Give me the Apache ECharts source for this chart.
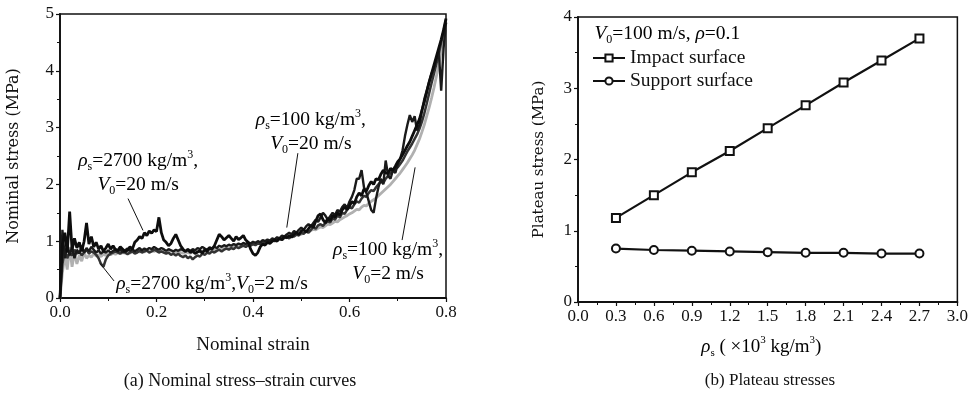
<!DOCTYPE html>
<html><head><meta charset="utf-8">
<script src="https://cdn.jsdelivr.net/npm/echarts@6/dist/echarts.min.js"></script>
<style>html,body{margin:0;padding:0;background:#fff}#c{width:971px;height:394px}</style>
</head><body><div id="c"></div>
<script>
// ---------- Panel (a): nominal stress-strain curves ----------
const strain = [0,0.005,0.01,0.015,0.02,0.025,0.03,0.035,0.04,0.045,0.05,0.055,0.06,0.065,0.07,0.075,0.08,0.085,0.09,0.095,
0.1,0.105,0.11,0.115,0.12,0.125,0.13,0.135,0.14,0.145,0.15,0.155,0.16,0.165,0.17,0.175,0.18,0.185,0.19,0.195,
0.2,0.205,0.21,0.215,0.22,0.225,0.23,0.235,0.24,0.245,0.25,0.255,0.26,0.265,0.27,0.275,0.28,0.285,0.29,0.295,
0.3,0.305,0.31,0.315,0.32,0.325,0.33,0.335,0.34,0.345,0.35,0.355,0.36,0.365,0.37,0.375,0.38,0.385,0.39,0.395,
0.4,0.405,0.41,0.415,0.42,0.425,0.43,0.435,0.44,0.445,0.45,0.455,0.46,0.465,0.47,0.475,0.48,0.485,0.49,0.495,
0.5,0.505,0.51,0.515,0.52,0.525,0.53,0.535,0.54,0.545,0.55,0.555,0.56,0.565,0.57,0.575,0.58,0.585,0.59,0.595,
0.6,0.605,0.61,0.615,0.62,0.625,0.63,0.635,0.64,0.645,0.65,0.655,0.66,0.665,0.67,0.675,0.68,0.685,0.69,0.695,
0.7,0.705,0.71,0.715,0.72,0.725,0.73,0.735,0.74,0.745,0.75,0.755,0.76,0.765,0.77,0.775,0.78,0.785,0.79,0.795,0.8];

// rho_s = 100 kg/m3, V0 = 2 m/s (light grey)
const s100v2 = [0,0.45,0.75,0.5,0.9,0.55,0.8,0.6,0.75,0.65,0.8,0.7,0.75,0.72,0.78,0.74,0.76,0.73,0.77,0.75,
0.78,0.76,0.79,0.77,0.8,0.78,0.8,0.79,0.81,0.79,0.82,0.8,0.82,0.81,0.83,0.81,0.83,0.82,0.84,0.82,
0.84,0.83,0.82,0.84,0.82,0.81,0.83,0.81,0.8,0.82,0.8,0.79,0.81,0.8,0.79,0.81,0.8,0.82,0.81,0.83,
0.82,0.84,0.83,0.85,0.84,0.86,0.85,0.87,0.88,0.87,0.89,0.88,0.9,0.91,0.9,0.92,0.93,0.92,0.94,0.95,
0.94,0.96,0.97,0.96,0.98,0.99,1.0,0.99,1.01,1.02,1.04,1.03,1.05,1.07,1.06,1.08,1.1,1.09,1.11,1.13,
1.12,1.15,1.17,1.16,1.19,1.21,1.2,1.23,1.25,1.24,1.27,1.3,1.29,1.32,1.35,1.34,1.38,1.4,1.43,1.45,
1.48,1.5,1.53,1.56,1.55,1.6,1.63,1.62,1.67,1.7,1.73,1.76,1.8,1.84,1.88,1.92,1.96,2.0,2.05,2.1,
2.15,2.2,2.26,2.32,2.38,2.45,2.52,2.6,2.7,2.8,2.92,3.05,3.2,3.35,3.52,3.7,3.9,4.1,4.35,4.6,4.85];

// rho_s = 2700 kg/m3, V0 = 2 m/s
const s2700v2 = [0,0.6,0.85,0.7,0.8,0.75,0.85,0.78,0.82,0.75,0.8,0.85,0.78,0.82,0.8,0.76,0.7,0.6,0.55,0.68,
0.75,0.78,0.8,0.82,0.8,0.78,0.82,0.8,0.77,0.8,0.82,0.78,0.8,0.83,0.8,0.82,0.84,0.8,0.82,0.85,
0.83,0.8,0.82,0.8,0.78,0.8,0.76,0.78,0.75,0.78,0.74,0.72,0.75,0.7,0.73,0.68,0.72,0.75,0.73,0.78,
0.76,0.8,0.78,0.82,0.8,0.83,0.85,0.82,0.85,0.87,0.85,0.88,0.86,0.9,0.88,0.9,0.92,0.9,0.93,0.92,
0.95,0.93,0.96,0.95,0.98,0.96,1.0,0.98,1.02,1.0,1.03,1.05,1.02,1.06,1.08,1.05,1.1,1.08,1.12,1.1,
1.15,1.13,1.18,1.15,1.2,1.25,1.22,1.28,1.3,1.27,1.32,1.35,1.33,1.4,1.38,1.45,1.42,1.5,1.48,1.55,
1.6,1.58,1.65,1.7,1.68,1.75,1.8,1.78,1.85,1.9,1.88,1.95,2.0,2.05,2.02,2.1,2.15,2.2,2.25,2.28,
2.3,2.36,2.42,2.5,2.58,2.65,2.72,2.8,2.88,2.98,3.1,3.25,3.42,3.6,3.78,3.95,4.12,4.3,4.5,4.7,4.9];

// rho_s = 100 kg/m3, V0 = 20 m/s
const s100v20 = [0,1.2,0.7,0.95,0.75,0.9,0.7,0.85,0.78,0.92,0.8,0.88,0.82,0.9,0.85,0.8,0.84,0.78,0.82,0.8,
0.84,0.8,0.83,0.86,0.82,0.85,0.8,0.84,0.87,0.83,0.86,0.82,0.85,0.88,0.84,0.87,0.85,0.88,0.86,0.9,
0.87,0.85,0.88,0.86,0.83,0.86,0.84,0.82,0.85,0.83,0.86,0.84,0.82,0.85,0.83,0.86,0.84,0.88,0.86,0.9,
0.87,0.85,0.89,0.87,0.9,0.88,0.92,0.9,0.93,0.91,0.94,0.92,0.95,0.93,0.96,0.94,0.97,0.95,0.98,0.96,
0.99,0.97,1.0,0.98,1.02,1.0,1.03,1.01,1.05,1.03,1.07,1.05,1.1,1.08,1.12,1.15,1.12,1.18,1.15,1.2,
1.24,1.2,1.26,1.3,1.26,1.32,1.38,1.34,1.42,1.5,1.45,1.38,1.44,1.5,1.46,1.55,1.52,1.6,1.65,1.58,
1.7,1.78,1.9,2.1,2.1,2.25,1.95,1.85,1.7,1.55,1.5,1.75,1.95,2.1,2.0,2.42,2.15,2.1,2.25,2.2,
2.35,2.45,2.6,2.85,3.05,3.22,3.1,3.2,2.95,3.05,3.3,3.5,3.65,3.8,3.95,4.05,4.2,4.35,3.65,4.4,4.85];

// rho_s = 2700 kg/m3, V0 = 20 m/s
const s2700v20 = [0,0.95,1.15,0.8,1.52,0.85,1.05,0.88,0.98,0.82,1.0,1.32,0.95,1.08,0.9,0.98,0.86,0.92,0.82,0.88,
0.95,0.86,0.92,0.85,0.84,0.9,0.86,0.82,0.84,0.9,0.86,0.98,1.02,1.08,1.05,1.15,1.1,1.18,1.14,1.2,
1.17,1.42,1.15,1.02,0.98,0.92,0.96,1.05,1.12,1.02,0.92,0.86,0.82,0.86,0.8,0.83,0.78,0.81,0.83,0.79,
0.85,0.82,0.88,0.86,0.92,1.02,1.12,1.08,1.02,1.06,1.1,1.05,1.0,1.08,1.03,1.06,1.1,1.02,0.98,0.86,
0.78,0.75,0.8,0.9,0.95,0.93,0.98,0.96,1.0,1.02,1.0,1.05,1.03,1.08,1.06,1.1,1.07,1.12,1.15,1.12,
1.18,1.2,1.16,1.22,1.28,1.24,1.35,1.45,1.48,1.38,1.32,1.4,1.36,1.45,1.42,1.5,1.46,1.55,1.6,1.56,
1.62,1.7,1.66,1.78,1.85,1.8,1.92,1.88,1.98,2.05,2.0,2.1,2.08,2.18,2.25,2.2,2.2,2.28,2.25,2.32,
2.4,2.45,2.52,2.6,2.68,2.75,2.85,2.95,3.05,3.15,3.3,3.45,3.62,3.8,3.95,4.1,4.25,4.4,4.55,4.72,4.92];

// ---------- Panel (b): plateau stresses ----------
const rhoS = [0.3,0.6,0.9,1.2,1.5,1.8,2.1,2.4,2.7];
const impactSurface = [1.18,1.5,1.82,2.12,2.44,2.76,3.08,3.39,3.70];
const supportSurface = [0.75,0.73,0.72,0.71,0.70,0.69,0.69,0.68,0.68];

const xTicksA = ['0.0','0.2','0.4','0.6','0.8'];
const xTicksB = ['0.0','0.3','0.6','0.9','1.2','1.5','1.8','2.1','2.4','2.7','3.0'];

const FONT = 'Liberation Serif';
const WIDE = 'DejaVu Serif';
const pairs = (xs, ys) => ys.map((y, i) => [xs[i], y]);

const chart = echarts.init(document.getElementById('c'), null, {renderer: 'canvas'});

const axisCommon = {
  axisLine: {show: true, lineStyle: {color: '#111', width: 1.8}},
  axisTick: {show: true, inside: false, length: 4, lineStyle: {color: '#111', width: 1.2}},
  minorTick: {show: true, splitNumber: 2, length: 3, lineStyle: {color: '#111', width: 1}},
  splitLine: {show: false},
  axisLabel: {color: '#111', fontFamily: FONT, fontSize: 17, margin: 6}
};

function lineSeries(name, data, color, width) {
  return {
    name, type: 'line', xAxisIndex: 0, yAxisIndex: 0, data: pairs(strain, data),
    showSymbol: false, symbol: 'none', lineStyle: {color, width}, z: 3, animation: false
  };
}

chart.setOption({
  animation: false,
  backgroundColor: '#fff',
  grid: [
    {left: 60, right: 525, top: 14, bottom: 96, show: true, borderColor: '#111', borderWidth: 1.5, containLabel: false},
    {left: 578, right: 9, top: 17, bottom: 92, show: true, borderColor: '#111', borderWidth: 1.5, containLabel: false}
  ],
  xAxis: [
    Object.assign({}, axisCommon, {gridIndex: 0, type: 'value', min: 0, max: 0.8, interval: 0.2,
      axisLabel: Object.assign({}, axisCommon.axisLabel, {formatter: v => xTicksA[Math.round(v / 0.2)]}),
      name: 'Nominal strain', nameLocation: 'middle', nameGap: 38,
      nameTextStyle: {fontFamily: FONT, fontSize: 19, color: '#111'}}),
    Object.assign({}, axisCommon, {gridIndex: 1, type: 'value', min: 0, max: 3, interval: 0.3,
      axisLabel: Object.assign({}, axisCommon.axisLabel, {formatter: v => xTicksB[Math.round(v / 0.3)]}),
      name: '', nameLocation: 'middle', nameGap: 38})
  ],
  yAxis: [
    Object.assign({}, axisCommon, {gridIndex: 0, type: 'value', min: 0, max: 5, interval: 1,
      name: 'Nominal stress (MPa)', nameLocation: 'middle', nameGap: 38,
      nameTextStyle: {fontFamily: WIDE, fontSize: 16, color: '#111'}}),
    Object.assign({}, axisCommon, {gridIndex: 1, type: 'value', min: 0, max: 4, interval: 1,
      name: 'Plateau stress (MPa)', nameLocation: 'middle', nameGap: 31,
      nameTextStyle: {fontFamily: WIDE, fontSize: 15, color: '#111'}})
  ],
  legend: {
    data: ['Impact surface', 'Support surface'],
    left: 587, top: 43, orient: 'vertical', itemGap: 3, itemWidth: 32, itemHeight: 9,
    textStyle: {fontFamily: FONT, fontSize: 19.5, color: '#111'}
  },
  series: [
    lineSeries('100v2', s100v2, '#b0b0b0', 2.8),
    lineSeries('2700v2', s2700v2, '#333', 2.5),
    lineSeries('100v20', s100v20, '#1a1a1a', 2.4),
    lineSeries('2700v20', s2700v20, '#0d0d0d', 2.8),
    {name: 'Impact surface', type: 'line', xAxisIndex: 1, yAxisIndex: 1, data: pairs(rhoS, impactSurface),
      symbol: 'emptyRect', symbolSize: 8, lineStyle: {color: '#111', width: 2.2}, itemStyle: {color: '#111', borderWidth: 1.2}},
    {name: 'Support surface', type: 'line', xAxisIndex: 1, yAxisIndex: 1, data: pairs(rhoS, supportSurface),
      symbol: 'emptyCircle', symbolSize: 8, lineStyle: {color: '#111', width: 2.2}, itemStyle: {color: '#111', borderWidth: 1.2}}
  ]
});

// ---------- annotations (anchored in data coordinates) ----------
function mkRich(fs, lh) {
  return {
    n: {fontFamily: FONT, fontSize: fs, color: '#111', lineHeight: lh},
    i: {fontFamily: FONT, fontSize: fs, fontStyle: 'italic', color: '#111', lineHeight: lh},
    sub: {fontFamily: FONT, fontSize: Math.round(fs * 0.6), color: '#111', verticalAlign: 'bottom', lineHeight: lh},
    sup: {fontFamily: FONT, fontSize: Math.round(fs * 0.6), color: '#111', verticalAlign: 'top', lineHeight: lh}
  };
}
const rich = mkRich(19.5, 24);
const annTexts = [
  '{i|ρ}{sub|s}{n|=2700 kg/m}{sup|3}{n|,}\n{i|V}{sub|0}{n|=20 m/s}',
  '{i|ρ}{sub|s}{n|=100 kg/m}{sup|3}{n|,}\n{i|V}{sub|0}{n|=20 m/s}',
  '{i|ρ}{sub|s}{n|=100 kg/m}{sup|3}{n|,}\n{i|V}{sub|0}{n|=2 m/s}',
  '{i|ρ}{sub|s}{n|=2700 kg/m}{sup|3}{n|,}{i|V}{sub|0}{n|=2 m/s}'
];
const annPos = [[0.162, 2.21], [0.52, 2.92], [0.68, 0.64], [0.315, 0.25]];
const leaderFrom = [[0.141, 1.75], [0.493, 2.55], [0.736, 2.3], [0.083, 0.61]];
const leaderTo = [[0.172, 1.19], [0.470, 1.24], [0.709, 1.02], [0.112, 0.30]];

const g = [];
const toPx = p => chart.convertToPixel({xAxisIndex: 0, yAxisIndex: 0}, p);
annTexts.forEach((t, k) => {
  const p = toPx(annPos[k]);
  g.push({type: 'text', x: p[0], y: p[1], z: 10,
    style: {text: t, rich, align: 'center', verticalAlign: 'middle', textAlign: 'center'}});
  const a = toPx(leaderFrom[k]), b = toPx(leaderTo[k]);
  g.push({type: 'line', z: 10, shape: {x1: a[0], y1: a[1], x2: b[0], y2: b[1]}, style: {stroke: '#111', lineWidth: 1}});
});

// panel (b) header line and axis name, captions
const hb = chart.convertToPixel({xAxisIndex: 1, yAxisIndex: 1}, [0.13, 3.77]);
g.push({type: 'text', x: hb[0], y: hb[1], z: 10,
  style: {text: '{i|V}{sub|0}{n|=100 m/s, }{i|ρ}{n|=0.1}', rich: mkRich(19.5, 24), verticalAlign: 'middle'}});
const xb = chart.convertToPixel({xAxisIndex: 1, yAxisIndex: 1}, [1.45, 0]);
g.push({type: 'text', x: xb[0], y: xb[1] + 45, z: 10,
  style: {text: '{i|ρ}{sub|s}{n| ( ×10}{sup|3}{n| kg/m}{sup|3}{n|)}', rich: mkRich(19, 24), align: 'center', textAlign: 'center', verticalAlign: 'middle'}});
g.push({type: 'text', x: 240, y: 381, style: {text: '(a) Nominal stress–strain curves', fontFamily: FONT, fontSize: 18, fill: '#111', align: 'center', textAlign: 'center', verticalAlign: 'middle'}});
g.push({type: 'text', x: 770, y: 381, style: {text: '(b) Plateau stresses', fontFamily: FONT, fontSize: 17, fill: '#111', align: 'center', textAlign: 'center', verticalAlign: 'middle'}});
chart.setOption({graphic: g});
</script>
</body></html>
